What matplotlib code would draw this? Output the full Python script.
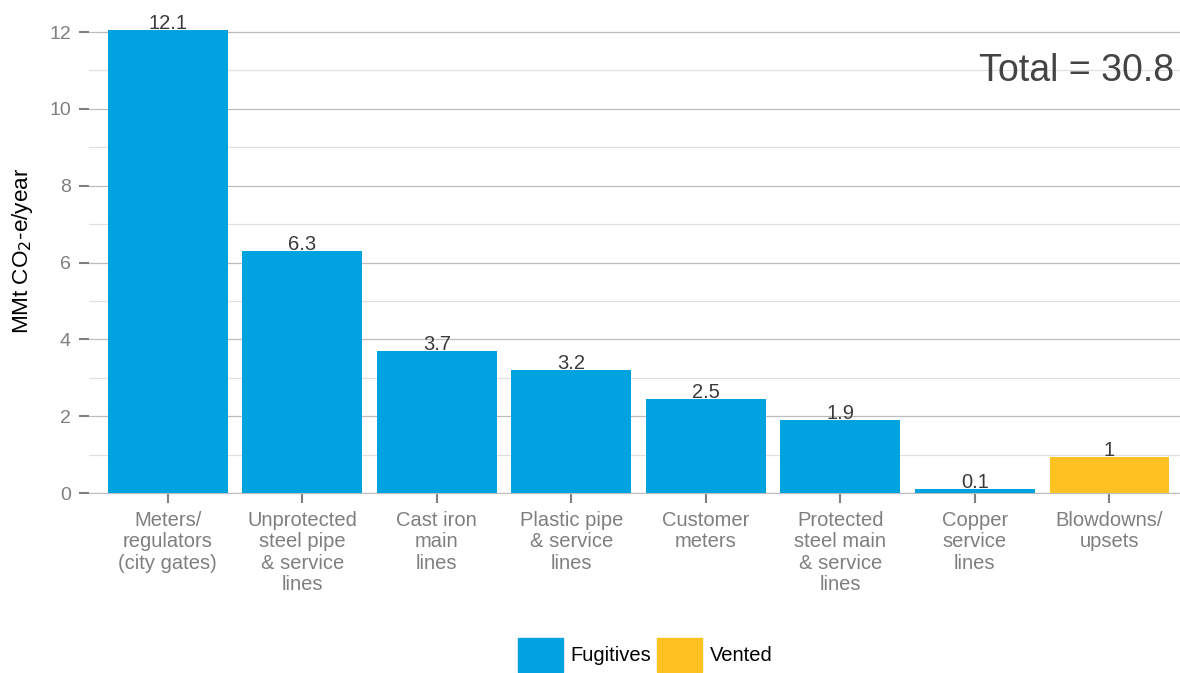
import matplotlib.pyplot as plt
from matplotlib.patches import Patch
from matplotlib.ticker import MultipleLocator

plt.rcParams['font.family'] = ['Liberation Sans', 'DejaVu Sans']

# data
categories = ['Meters/\nregulators\n(city gates)', 'Unprotected\nsteel pipe\n& service\nlines',
              'Cast iron\nmain\nlines', 'Plastic pipe\n& service\nlines', 'Customer\nmeters',
              'Protected\nsteel main\n& service\nlines', 'Copper\nservice\nlines', 'Blowdowns/\nupsets']
values = [12.05, 6.3, 3.7, 3.2, 2.45, 1.9, 0.1, 0.94]
labels = ['12.1', '6.3', '3.7', '3.2', '2.5', '1.9', '0.1', '1']
groups = ['Fugitives'] * 7 + ['Vented']
colors = {'Fugitives': '#00A3E0', 'Vented': '#FDC122'}
total = 30.8

fig = plt.figure(figsize=(11.8, 6.73), dpi=100)
ax = fig.add_axes([89 / 1180, 1 - 493 / 673, 1 - 89 / 1180, (493 - 9) / 673])

x = list(range(len(categories)))
ax.bar(x, values, width=0.89, color=[colors[g] for g in groups], zorder=3)
for xi, v, lab in zip(x, values, labels):
    ax.text(xi, v - 0.07, lab, ha='center', va='bottom', fontsize=14.5, color='#3a3a3a', zorder=4)

ax.set_xlim(-0.585, 7.525)
ax.set_ylim(0, 12.6)
ax.yaxis.set_major_locator(MultipleLocator(2))
ax.yaxis.set_minor_locator(MultipleLocator(1))
ax.grid(axis='y', which='major', color='#bdbdbd', linewidth=0.9, zorder=0)
ax.grid(axis='y', which='minor', color='#e0e0e0', linewidth=0.9, zorder=0)
ax.tick_params(axis='y', which='minor', length=0)
ax.tick_params(axis='both', which='major', colors='#7f7f7f', labelcolor='#7f7f7f',
               labelsize=14, length=7, width=1.5)
ax.tick_params(axis='y', which='major', pad=6)
ax.tick_params(axis='x', which='major', pad=6)
ax.set_xticks(x)
ax.set_xticklabels(categories, va='top', linespacing=1.16, fontsize=14.5)
for s in ['top', 'right', 'left']:
    ax.spines[s].set_visible(False)
ax.spines['bottom'].set_color('#bdbdbd')

ax.set_ylabel('MMt CO$_2$-e/year', fontsize=16.2, color='black', labelpad=10)
ax.text(0.995, (493 - 71) / 484, f'Total = {total}', transform=ax.transAxes, ha='right',
        va='center', fontsize=27, color='#444444')

handles = [Patch(color=colors[g], label=g) for g in ['Fugitives', 'Vented']]
fig.legend(handles=handles, loc='center', bbox_to_anchor=(0.547, 0.027), ncol=2,
           frameon=False, fontsize=14.5, handlelength=2.2, handleheight=2.2,
           columnspacing=0.3, handletextpad=0.4)

fig.savefig('out.png', dpi=100)
